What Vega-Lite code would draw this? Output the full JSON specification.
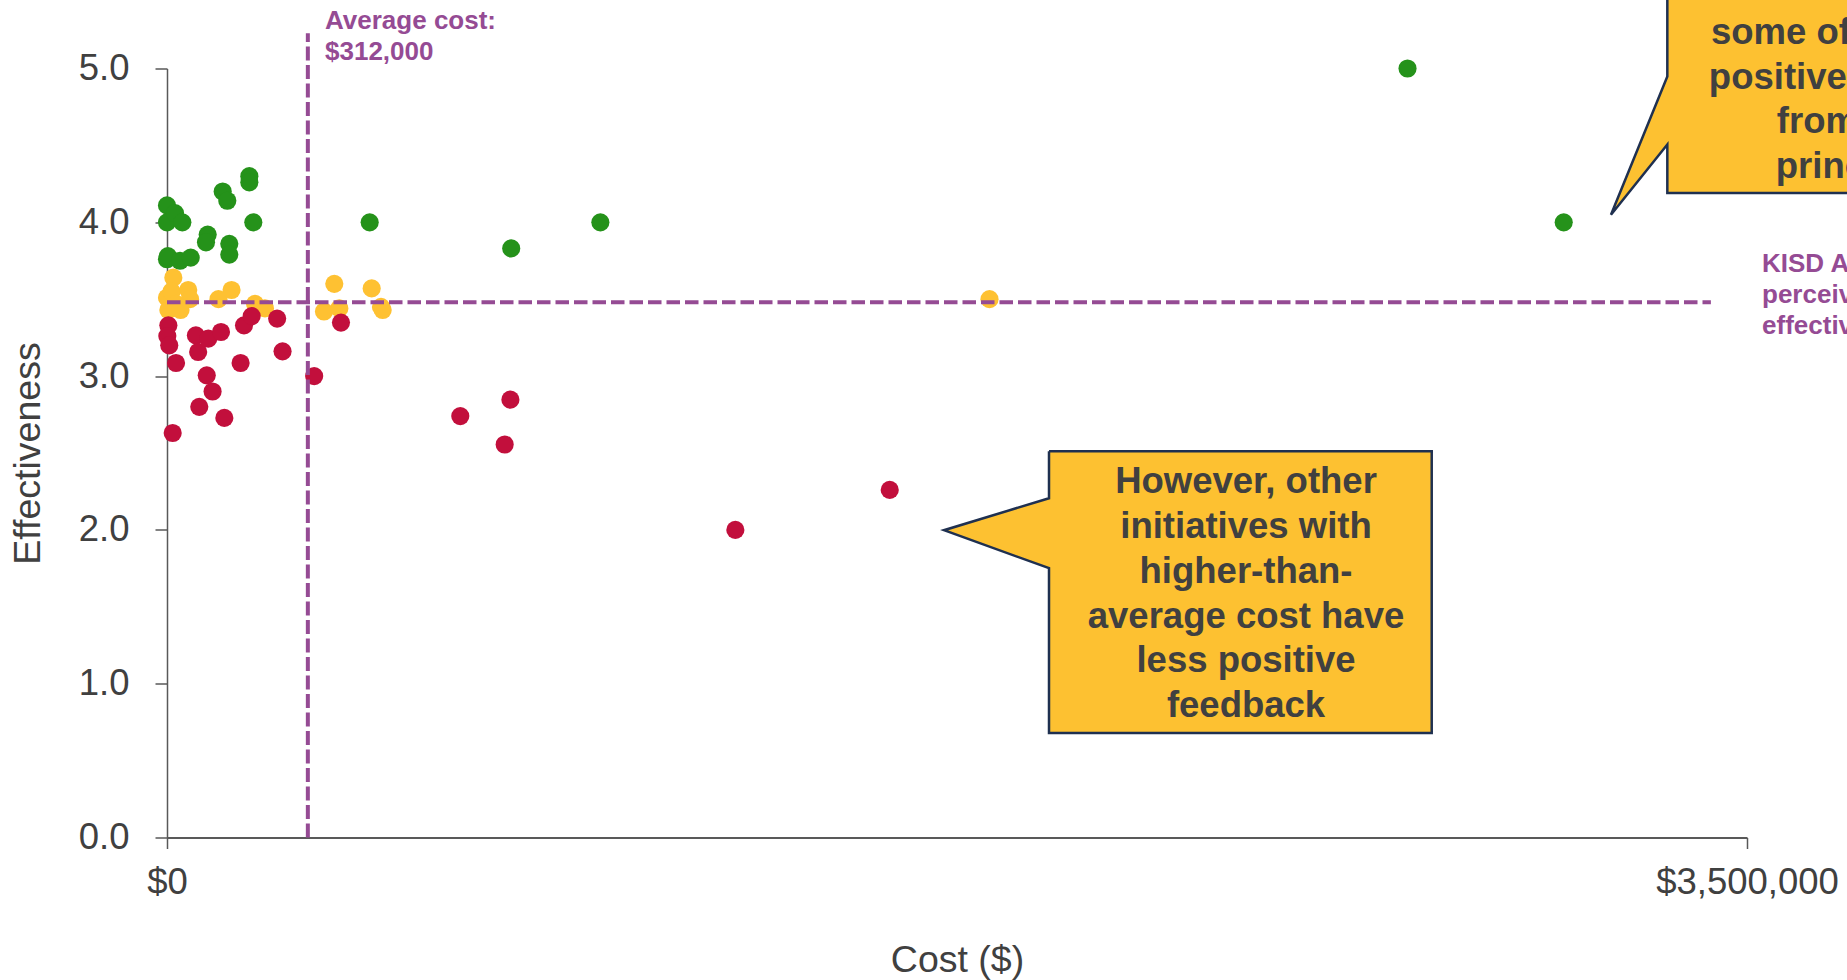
{
  "$schema": "https://vega.github.io/schema/vega-lite/v6.json",
  "width": 1580,
  "height": 769,
  "autosize": {"type": "none"},
  "padding": {"left": 167, "top": 68.5, "right": 100, "bottom": 142.5},
  "background": "white",
  "config": {"view": {"stroke": null}, "font": "Liberation Sans"},
  "datasets": {
    "initiatives": [
      {"cost": 0, "effectiveness": 4.11, "tier": "High"},
      {"cost": 0, "effectiveness": 4.0, "tier": "High"},
      {"cost": 17700, "effectiveness": 4.06, "tier": "High"},
      {"cost": 34000, "effectiveness": 4.0, "tier": "High"},
      {"cost": 0, "effectiveness": 3.76, "tier": "High"},
      {"cost": 2000, "effectiveness": 3.78, "tier": "High"},
      {"cost": 28800, "effectiveness": 3.75, "tier": "High"},
      {"cost": 52500, "effectiveness": 3.77, "tier": "High"},
      {"cost": 90100, "effectiveness": 3.92, "tier": "High"},
      {"cost": 86400, "effectiveness": 3.87, "tier": "High"},
      {"cost": 123400, "effectiveness": 4.2, "tier": "High"},
      {"cost": 133600, "effectiveness": 4.14, "tier": "High"},
      {"cost": 182400, "effectiveness": 4.3, "tier": "High"},
      {"cost": 182400, "effectiveness": 4.26, "tier": "High"},
      {"cost": 191200, "effectiveness": 4.0, "tier": "High"},
      {"cost": 138000, "effectiveness": 3.86, "tier": "High"},
      {"cost": 138000, "effectiveness": 3.79, "tier": "High"},
      {"cost": 449000, "effectiveness": 4.0, "tier": "High"},
      {"cost": 762500, "effectiveness": 3.83, "tier": "High"},
      {"cost": 960000, "effectiveness": 4.0, "tier": "High"},
      {"cost": 2748000, "effectiveness": 5.0, "tier": "High"},
      {"cost": 3094000, "effectiveness": 4.0, "tier": "High"},
      {"cost": 14000, "effectiveness": 3.64, "tier": "Mid"},
      {"cost": 0, "effectiveness": 3.51, "tier": "Mid"},
      {"cost": 10000, "effectiveness": 3.55, "tier": "Mid"},
      {"cost": 47000, "effectiveness": 3.56, "tier": "Mid"},
      {"cost": 51000, "effectiveness": 3.5, "tier": "Mid"},
      {"cost": 20000, "effectiveness": 3.47, "tier": "Mid"},
      {"cost": 3000, "effectiveness": 3.43, "tier": "Mid"},
      {"cost": 30000, "effectiveness": 3.43, "tier": "Mid"},
      {"cost": 114000, "effectiveness": 3.5, "tier": "Mid"},
      {"cost": 143000, "effectiveness": 3.56, "tier": "Mid"},
      {"cost": 195000, "effectiveness": 3.47, "tier": "Mid"},
      {"cost": 217000, "effectiveness": 3.44, "tier": "Mid"},
      {"cost": 370600, "effectiveness": 3.6, "tier": "Mid"},
      {"cost": 453400, "effectiveness": 3.57, "tier": "Mid"},
      {"cost": 347800, "effectiveness": 3.42, "tier": "Mid"},
      {"cost": 381700, "effectiveness": 3.44, "tier": "Mid"},
      {"cost": 474000, "effectiveness": 3.45, "tier": "Mid"},
      {"cost": 477800, "effectiveness": 3.43, "tier": "Mid"},
      {"cost": 1822000, "effectiveness": 3.5, "tier": "Mid"},
      {"cost": 3000, "effectiveness": 3.33, "tier": "Low"},
      {"cost": 700, "effectiveness": 3.26, "tier": "Low"},
      {"cost": 5000, "effectiveness": 3.2, "tier": "Low"},
      {"cost": 20000, "effectiveness": 3.085, "tier": "Low"},
      {"cost": 64000, "effectiveness": 3.265, "tier": "Low"},
      {"cost": 69000, "effectiveness": 3.157, "tier": "Low"},
      {"cost": 91500, "effectiveness": 3.244, "tier": "Low"},
      {"cost": 119600, "effectiveness": 3.287, "tier": "Low"},
      {"cost": 88000, "effectiveness": 3.005, "tier": "Low"},
      {"cost": 101000, "effectiveness": 2.9, "tier": "Low"},
      {"cost": 71500, "effectiveness": 2.8, "tier": "Low"},
      {"cost": 127000, "effectiveness": 2.728, "tier": "Low"},
      {"cost": 12600, "effectiveness": 2.63, "tier": "Low"},
      {"cost": 163000, "effectiveness": 3.085, "tier": "Low"},
      {"cost": 170600, "effectiveness": 3.33, "tier": "Low"},
      {"cost": 187600, "effectiveness": 3.39, "tier": "Low"},
      {"cost": 244000, "effectiveness": 3.374, "tier": "Low"},
      {"cost": 256000, "effectiveness": 3.161, "tier": "Low"},
      {"cost": 326000, "effectiveness": 3.0, "tier": "Low"},
      {"cost": 385400, "effectiveness": 3.348, "tier": "Low"},
      {"cost": 649700, "effectiveness": 2.74, "tier": "Low"},
      {"cost": 760700, "effectiveness": 2.847, "tier": "Low"},
      {"cost": 748000, "effectiveness": 2.555, "tier": "Low"},
      {"cost": 1259000, "effectiveness": 2.0, "tier": "Low"},
      {"cost": 1601000, "effectiveness": 2.26, "tier": "Low"}
    ],
    "averageEffectiveness": [
      {"cost": 0, "cost2": 3420000, "effectiveness": 3.48}
    ],
    "averageCost": [
      {"cost": 312000, "effectiveness": 0, "effectiveness2": 5.23}
    ],
    "callouts": [
      {"callout": "A", "vertex": 1, "cost": 1953800, "effectiveness": 2.511},
      {"callout": "A", "vertex": 2, "cost": 2801600, "effectiveness": 2.511},
      {"callout": "A", "vertex": 3, "cost": 2801600, "effectiveness": 0.679},
      {"callout": "A", "vertex": 4, "cost": 1953800, "effectiveness": 0.679},
      {"callout": "A", "vertex": 5, "cost": 1953800, "effectiveness": 1.751},
      {"callout": "A", "vertex": 6, "cost": 1721200, "effectiveness": 1.998},
      {"callout": "A", "vertex": 7, "cost": 1953800, "effectiveness": 2.206},
      {"callout": "A", "vertex": 8, "cost": 1953800, "effectiveness": 2.511},
      {"callout": "B", "vertex": 1, "cost": 3323500, "effectiveness": 5.83},
      {"callout": "B", "vertex": 2, "cost": 4186000, "effectiveness": 5.83},
      {"callout": "B", "vertex": 3, "cost": 4186000, "effectiveness": 4.19},
      {"callout": "B", "vertex": 4, "cost": 3323500, "effectiveness": 4.19},
      {"callout": "B", "vertex": 5, "cost": 3323500, "effectiveness": 4.506},
      {"callout": "B", "vertex": 6, "cost": 3198700, "effectiveness": 4.049},
      {"callout": "B", "vertex": 7, "cost": 3323500, "effectiveness": 4.948},
      {"callout": "B", "vertex": 8, "cost": 3323500, "effectiveness": 5.83}
    ],
    "calloutText": [
      {"cost": 2390200, "effectiveness": 2.237, "note": "However, other\ninitiatives with\nhigher-than-\naverage cost have\nless positive\nfeedback"},
      {"cost": 3754800, "effectiveness": 5.16, "note": "some of the most\npositive feedback\nfrom their\nprincipals"}
    ],
    "referenceText": [
      {"cost": 350000, "effectiveness": 5.258, "note": "Average cost:\n$312,000"},
      {"cost": 3533300, "effectiveness": 3.676, "note": "KISD Average\nperceived\neffectiveness"}
    ]
  },
  "encoding": {
    "x": {
      "field": "cost",
      "type": "quantitative",
      "scale": {"domain": [0, 3500000], "nice": false, "zero": true},
      "axis": {
        "title": "Cost ($)",
        "values": [0, 3500000],
        "format": "$,.0f",
        "grid": false,
        "domainColor": "#595959",
        "domainWidth": 2,
        "tickColor": "#595959",
        "tickWidth": 1.5,
        "tickSize": 11,
        "labelFontSize": 36.5,
        "labelFont": "Liberation Sans",
        "labelColor": "#404040",
        "labelPadding": 16,
        "labelLimit": 0,
        "labelFlush": false,
        "labelOverlap": false,
        "titleFont": "Liberation Sans",
        "titleFontSize": 37.5,
        "titleFontWeight": "normal",
        "titleColor": "#404040",
        "titlePadding": 40
      }
    },
    "y": {
      "field": "effectiveness",
      "type": "quantitative",
      "scale": {"domain": [0, 5], "nice": false, "zero": true},
      "axis": {
        "title": "Effectiveness",
        "values": [0, 1, 2, 3, 4, 5],
        "format": ".1f",
        "grid": false,
        "domainColor": "#595959",
        "domainWidth": 1.5,
        "tickColor": "#595959",
        "tickWidth": 1.5,
        "tickSize": 12,
        "labelFontSize": 36.5,
        "labelFont": "Liberation Sans",
        "labelColor": "#404040",
        "labelPadding": 26,
        "labelLimit": 0,
        "labelFlush": false,
        "labelOverlap": false,
        "titleFont": "Liberation Sans",
        "titleFontSize": 37.5,
        "titleFontWeight": "normal",
        "titleColor": "#404040",
        "titlePadding": 31
      }
    }
  },
  "layer": [
    {
      "data": {"name": "initiatives"},
      "mark": {"type": "circle", "size": 330, "opacity": 1},
      "encoding": {
        "color": {
          "field": "tier",
          "type": "nominal",
          "scale": {"domain": ["High", "Mid", "Low"], "range": ["#25921A", "#FEC132", "#C20F3C"]},
          "legend": null
        }
      }
    },
    {
      "data": {"name": "averageEffectiveness"},
      "mark": {"type": "rule", "color": "#954B94", "strokeWidth": 4, "strokeDash": [13.5, 5]},
      "encoding": {"x2": {"field": "cost2"}}
    },
    {
      "data": {"name": "averageCost"},
      "mark": {"type": "rule", "color": "#954B94", "strokeWidth": 4, "strokeDash": [14, 4.5]},
      "encoding": {"y2": {"field": "effectiveness2"}}
    },
    {
      "data": {"name": "callouts"},
      "mark": {"type": "line", "fill": "#FDC131", "stroke": "#1F3050", "strokeWidth": 2.5, "strokeJoin": "miter", "interpolate": "linear"},
      "encoding": {
        "detail": {"field": "callout", "type": "nominal"},
        "order": {"field": "vertex", "type": "quantitative"}
      }
    },
    {
      "data": {"name": "calloutText"},
      "mark": {"type": "text", "align": "center", "baseline": "alphabetic", "fontSize": 36.5, "fontWeight": "bold", "color": "#404040", "lineBreak": "\n", "lineHeight": 44.7, "font": "Liberation Sans"},
      "encoding": {"text": {"field": "note"}}
    },
    {
      "data": {"name": "referenceText"},
      "mark": {"type": "text", "align": "left", "baseline": "alphabetic", "fontSize": 26, "fontWeight": "bold", "color": "#954B94", "lineBreak": "\n", "lineHeight": 31, "font": "Liberation Sans"},
      "encoding": {"text": {"field": "note"}}
    }
  ]
}
